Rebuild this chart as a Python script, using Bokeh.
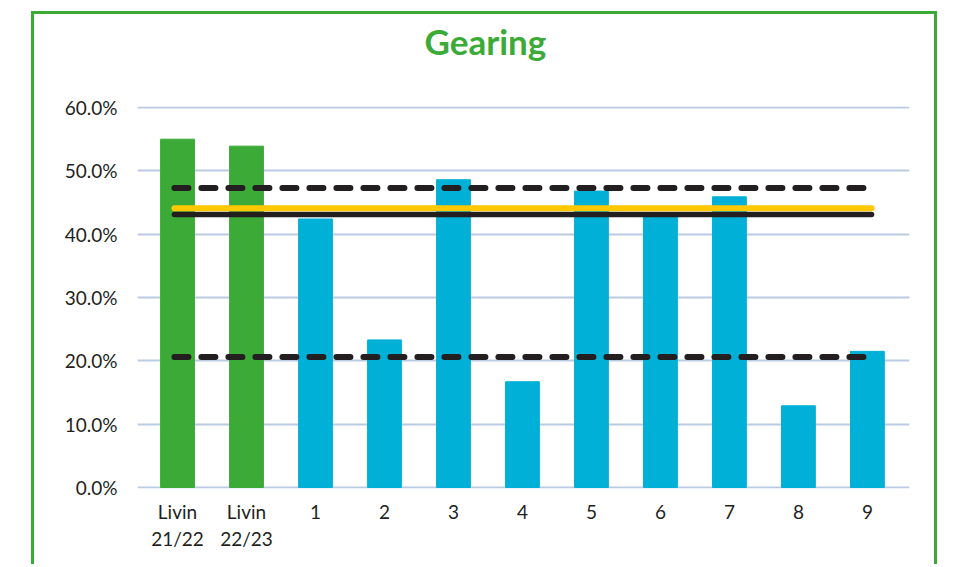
from bokeh.plotting import figure
from bokeh.models import Range1d, FixedTicker, NumeralTickFormatter, ColumnDataSource
from bokeh.embed import file_html
from bokeh.resources import INLINE

# ---- data ----
categories = ["Livin\n21/22", "Livin\n22/23", "1", "2", "3", "4", "5", "6", "7", "8", "9"]
gearing = [0.550, 0.539, 0.424, 0.233, 0.486, 0.167, 0.468, 0.433, 0.459, 0.129, 0.215]
group = ["Livin", "Livin", "peer", "peer", "peer", "peer", "peer", "peer", "peer", "peer", "peer"]
upper_dashed = 0.473
yellow_line = 0.441
black_line = 0.431
lower_dashed = 0.206
y_ticks = [0.0, 0.1, 0.2, 0.3, 0.4, 0.5, 0.6]

GREEN = "#3CAA36"
BLUE = "#00B0D6"
YELLOW = "#FFC800"
DARK = "#231F20"
GRID = "#B9CAE2"
FONT = "Lato"

colors = [GREEN if g == "Livin" else BLUE for g in group]
xs = list(range(len(categories)))

p = figure(width=906, height=553,
           x_range=Range1d(-0.58, len(categories) - 1 + 0.61),
           y_range=Range1d(-0.0016, 0.6016),
           output_backend="svg", toolbar_location=None,
           min_border_left=103, min_border_right=31,
           min_border_top=92, min_border_bottom=79)
p.margin = (11, 0, 0, 31)
p.styles = {"border-top": "3px solid " + GREEN,
            "border-left": "3px solid " + GREEN,
            "border-right": "3px solid " + GREEN}
p.outline_line_color = None
p.background_fill_color = "white"
p.border_fill_color = "white"

src = ColumnDataSource(dict(x=xs, top=gearing, color=colors))
p.vbar(x="x", top="top", width=0.49, bottom=0, color="color", source=src)

lx = [xs[0] - 0.045, xs[-1] + 0.06]
p.line(lx, [black_line] * 2, line_color=DARK, line_width=5.5, line_cap="round")
p.line(lx, [yellow_line] * 2, line_color=YELLOW, line_width=6, line_cap="round")
p.line(lx, [upper_dashed] * 2, line_color=DARK, line_width=6, line_dash="14 13", line_cap="round")
p.line(lx, [lower_dashed] * 2, line_color=DARK, line_width=6, line_dash="14 13", line_cap="round")

# axes
p.yaxis.ticker = FixedTicker(ticks=y_ticks)
p.yaxis.formatter = NumeralTickFormatter(format="0.0%")
p.xaxis.ticker = FixedTicker(ticks=xs)
p.xaxis.major_label_overrides = {i: c for i, c in zip(xs, categories)}
for ax in (p.xaxis, p.yaxis):
    ax.axis_line_color = None
    ax.major_tick_line_color = None
    ax.minor_tick_line_color = None
    ax.major_label_text_font = FONT
    ax.major_label_text_font_size = "19px"
    ax.major_label_text_color = DARK
p.yaxis.major_label_standoff = 14
p.xaxis.major_label_standoff = 5
p.xgrid.grid_line_color = None
p.ygrid.grid_line_color = GRID
p.ygrid.grid_line_width = 2

# title (an empty second line lifts the visible text towards the top of the frame)
p.title.text = "Gearing\n "
p.title.align = "left"
p.title.offset = 287
p.title.standoff = 5
p.title.text_font = FONT
p.title.text_font_style = "bold"
p.title.text_font_size = "35px"
p.title.text_color = GREEN

open("out.html", "w").write(file_html(p, INLINE))
